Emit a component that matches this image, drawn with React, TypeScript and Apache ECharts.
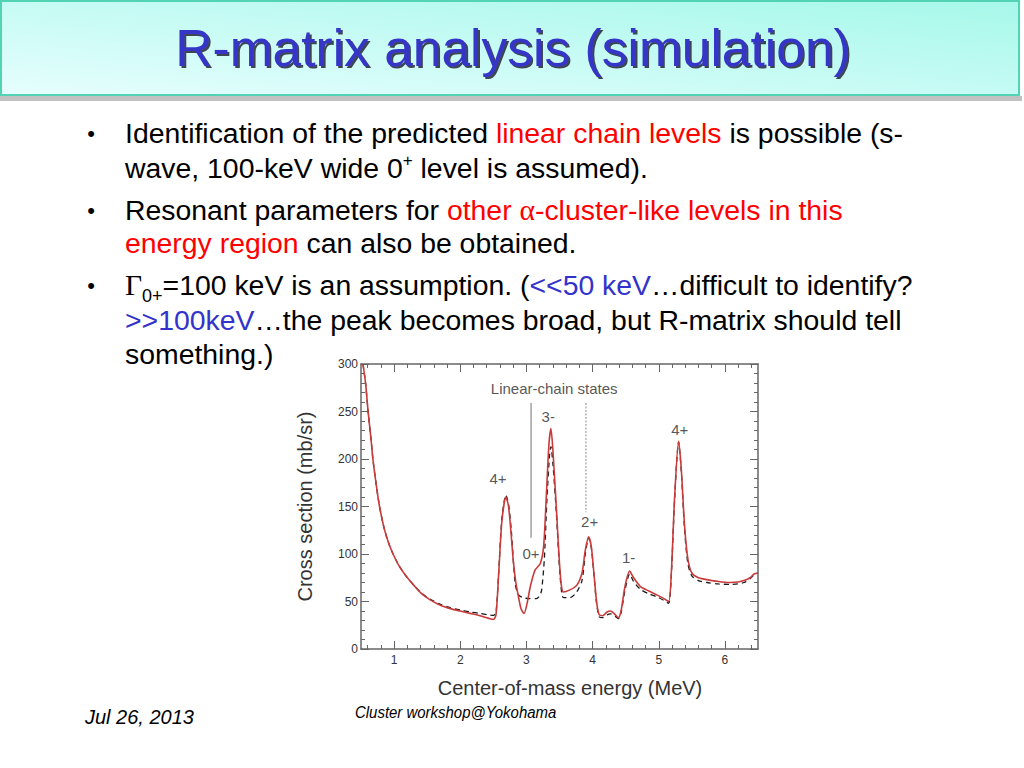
import React, { useEffect, useRef } from 'react';
import * as echarts from 'echarts';

// ---------- data ----------
const redCurve: [number, number][] = [
  [0.53, 300], [0.57, 279], [0.61, 248], [0.65, 222], [0.68, 200], [0.73, 173], [0.78, 150],
  [0.85, 127], [0.92, 111], [0.985, 100], [1.08, 87], [1.19, 76], [1.3, 67], [1.42, 58],
  [1.54, 52], [1.7, 46], [1.85, 42.5], [2.0, 40], [2.15, 37.5], [2.3, 35], [2.42, 32.5],
  [2.5, 31], [2.54, 36], [2.58, 78], [2.63, 135], [2.69, 160], [2.73, 150], [2.77, 120],
  [2.8, 94], [2.84, 70], [2.88, 55], [2.92, 42], [2.965, 37.5], [3.01, 48], [3.06, 66],
  [3.13, 83], [3.21, 90], [3.26, 108], [3.3, 160], [3.34, 215], [3.37, 232], [3.4, 210],
  [3.46, 139], [3.5, 90], [3.53, 66], [3.56, 60], [3.65, 62], [3.76, 67], [3.84, 80],
  [3.89, 104], [3.94, 118], [3.98, 108], [4.02, 80], [4.06, 50], [4.1, 36], [4.15, 35],
  [4.22, 39], [4.27, 40], [4.33, 37], [4.39, 33], [4.43, 40], [4.49, 66], [4.56, 82],
  [4.62, 75], [4.72, 66], [4.85, 61], [4.97, 57], [5.08, 53], [5.15, 50], [5.19, 80],
  [5.24, 160], [5.3, 219], [5.34, 190], [5.39, 130], [5.44, 95], [5.5, 80], [5.6, 75],
  [5.73, 73], [5.9, 71], [6.08, 70], [6.2, 70.5], [6.29, 72], [6.38, 75], [6.44, 79], [6.5, 80]
];

const dashedCurve: [number, number][] = [
  [0.53, 300], [0.57, 279], [0.61, 248], [0.65, 222], [0.68, 200], [0.73, 173], [0.78, 150],
  [0.85, 127], [0.92, 111], [0.985, 100], [1.08, 87], [1.19, 76], [1.3, 67], [1.42, 58.5],
  [1.54, 52.5], [1.7, 47], [1.85, 43.5], [2.0, 41], [2.15, 39], [2.3, 37.5], [2.42, 36],
  [2.5, 35.5], [2.54, 38], [2.58, 80], [2.63, 138], [2.69, 162], [2.73, 152], [2.77, 126],
  [2.83, 69], [2.88, 57], [2.95, 54], [3.05, 53], [3.15, 53], [3.2, 56], [3.23, 62],
  [3.27, 94], [3.31, 157], [3.35, 205], [3.37, 213], [3.4, 195], [3.45, 146], [3.51, 76],
  [3.56, 54], [3.66, 54], [3.76, 60], [3.84, 72], [3.89, 100], [3.94, 117], [3.98, 107],
  [4.02, 79], [4.06, 48], [4.1, 34], [4.15, 33], [4.22, 36], [4.27, 37], [4.33, 35],
  [4.39, 32], [4.43, 38], [4.49, 62], [4.56, 79], [4.62, 71], [4.72, 63], [4.85, 58],
  [4.97, 55], [5.08, 51], [5.15, 48], [5.19, 78], [5.24, 158], [5.3, 218], [5.34, 188],
  [5.39, 126], [5.44, 90], [5.5, 77], [5.6, 72], [5.73, 70], [5.9, 68.5], [6.08, 68],
  [6.2, 68.5], [6.29, 70], [6.38, 74], [6.44, 78], [6.5, 80]
];

const levelLabels = [
  { name: '4+', value: [2.57, 179] },
  { name: '0+', value: [3.07, 101] },
  { name: '3-', value: [3.33, 245] },
  { name: '2+', value: [3.955, 134] },
  { name: '1-', value: [4.545, 96] },
  { name: '4+', value: [5.318, 231] },
  { name: 'Linear-chain states', value: [3.42, 274] }
];

const chainLine1: [number, number][] = [[3.07, 259], [3.07, 117]];
const chainLine2: [number, number][] = [[3.9, 259], [3.9, 144]];

const xRange = [0.5, 6.5];
const yRange = [0, 300];
const xMajorTicks = [1, 2, 3, 4, 5, 6];
const xMinorTicks = [
  0.6, 0.8, 1.2, 1.4, 1.6, 1.8, 2.2, 2.4, 2.6, 2.8, 3.2, 3.4, 3.6, 3.8,
  4.2, 4.4, 4.6, 4.8, 5.2, 5.4, 5.6, 5.8, 6.2, 6.4
];

const titleText = 'R-matrix analysis (simulation)';
const xAxisName = 'Center-of-mass energy (MeV)';
const yAxisName = 'Cross section (mb/sr)';
const dateText = 'Jul 26, 2013';
const footerText = 'Cluster workshop@Yokohama';

// bullet lines: [richText, y]
const bulletLines: [string, number][] = [
  ['{k|Identification of the predicted }{r|linear chain levels}{k| is possible (s-}', 133],
  ['{k|wave, 100-keV wide 0}{sup|+}{k| level is assumed).}', 168],
  ['{k|Resonant parameters for }{r|other }{ra|α}{r|-cluster-like levels in this}', 210],
  ['{r|energy region}{k| can also be obtained.}', 243],
  ['{g|Γ}{sub|0+}{k|=100 keV is an assumption. (}{b|<<50 keV}{k|…difficult to identify?}', 285],
  ['{b|>>100keV}{k|…the peak becomes broad, but R-matrix should tell}', 320],
  ['{k|something.)}', 354]
];
const bulletYs = [133, 210, 285];

const SANS = '"Liberation Sans", Arial, Helvetica, sans-serif';
const SERIF = '"Liberation Serif", "Times New Roman", serif';

export default function App() {
  const ref = useRef<HTMLDivElement>(null);
  useEffect(() => {
    if (!ref.current) return;
    const chart = echarts.init(ref.current, undefined, { renderer: 'svg' });

    const FS = 28.4;
    const rich = {
      k: { fill: '#000000', color: '#000000', fontSize: FS, fontFamily: SANS, lineHeight: 32 },
      r: { fill: '#ff0000', color: '#ff0000', fontSize: FS, fontFamily: SANS, lineHeight: 32 },
      ra: { fill: '#ff0000', color: '#ff0000', fontSize: 29.5, fontFamily: SERIF, lineHeight: 32 },
      b: { fill: '#3333cc', color: '#3333cc', fontSize: FS, fontFamily: SANS, lineHeight: 32 },
      g: { fill: '#000000', color: '#000000', fontSize: 29.5, fontFamily: SERIF, lineHeight: 32 },
      sup: { fill: '#000000', color: '#000000', fontSize: 17, fontFamily: SANS, lineHeight: 17, verticalAlign: 'top' },
      sub: { fill: '#000000', color: '#000000', fontSize: 18, fontFamily: SANS, lineHeight: 18, verticalAlign: 'bottom', padding: [0, 0, -4, 0] }
    };

    const graphics: any[] = [
      {
        type: 'rect', silent: true, z: 1,
        shape: { x: 0, y: 96, width: 1022, height: 5 },
        style: { fill: 'rgba(120,120,120,0.45)' }
      },
      {
        type: 'rect', silent: true, z: 2,
        shape: { x: 1, y: 1, width: 1018, height: 94 },
        style: {
          fill: new echarts.graphic.LinearGradient(0, 1, 1, 0, [
            { offset: 0, color: '#e6fefe' },
            { offset: 1, color: '#a6f8ea' }
          ]),
          stroke: '#52d4b4', lineWidth: 2
        }
      },
      {
        type: 'text', silent: true, z: 3, x: 513, y: 48,
        style: {
          text: titleText, fill: '#3535c8', fontSize: 51.5, fontFamily: SANS,
          align: 'center', verticalAlign: 'middle', textAlign: 'center', textVerticalAlign: 'middle',
          textShadowColor: 'rgba(20,20,40,0.8)', textShadowOffsetX: 2, textShadowOffsetY: 2, textShadowBlur: 1,
          shadowColor: 'rgba(20,20,40,0.8)', shadowOffsetX: 2, shadowOffsetY: 2, shadowBlur: 1
        }
      },
      ...bulletYs.map((y) => ({
        type: 'text', silent: true, z: 3, x: 91, y,
        style: {
          text: '•', fill: '#000', fontSize: 22, fontFamily: SANS,
          align: 'center', verticalAlign: 'middle', textAlign: 'center', textVerticalAlign: 'middle'
        }
      })),
      ...bulletLines.map(([t, y]) => ({
        type: 'text', silent: true, z: 3, x: 125, y,
        style: {
          text: t, rich, fontSize: FS, fontFamily: SANS, fill: '#000',
          align: 'left', verticalAlign: 'middle', textAlign: 'left', textVerticalAlign: 'middle'
        }
      })),
      {
        type: 'text', silent: true, z: 3, x: 85, y: 717,
        style: {
          text: dateText, fill: '#000', fontSize: 20, fontStyle: 'italic', fontFamily: SANS,
          align: 'left', verticalAlign: 'middle', textAlign: 'left', textVerticalAlign: 'middle'
        }
      },
      {
        type: 'text', silent: true, z: 3, x: 355, y: 712, scaleX: 0.88,
        style: {
          text: footerText, fill: '#000', fontSize: 17, fontStyle: 'italic', fontFamily: SANS,
          align: 'left', verticalAlign: 'middle', textAlign: 'left', textVerticalAlign: 'middle'
        }
      }
    ];

    const axisGray = '#666666';
    const labelColor = '#333333';

    const baseX = {
      type: 'value', min: xRange[0], max: xRange[1], splitLine: { show: false }
    };
    const baseY = {
      type: 'value', min: yRange[0], max: yRange[1], interval: 50, splitLine: { show: false },
      minorTick: { show: true, splitNumber: 5, length: 4, lineStyle: { color: axisGray, width: 1 } }
    };

    const option: any = {
      animation: false,
      backgroundColor: '#ffffff',
      textStyle: { fontFamily: SANS },
      graphic: graphics,
      grid: { left: 361, right: 266, top: 364, bottom: 119, containLabel: false },
      xAxis: [
        {
          ...baseX, position: 'bottom',
          axisLine: { show: true, lineStyle: { color: axisGray, width: 1.5 } },
          axisTick: { show: true, inside: true, length: 8, customValues: xMajorTicks, lineStyle: { color: axisGray, width: 1 } },
          axisLabel: { show: true, color: labelColor, fontSize: 12, margin: 5, customValues: xMajorTicks },
          name: xAxisName, nameLocation: 'middle', nameGap: 29,
          nameTextStyle: { color: labelColor, fontSize: 20, fontFamily: SANS, padding: [0, 0, 0, 21] }
        },
        {
          ...baseX, position: 'bottom',
          axisLine: { show: false },
          axisTick: { show: true, inside: true, length: 4, customValues: xMinorTicks, lineStyle: { color: axisGray, width: 1 } },
          axisLabel: { show: false }
        },
        {
          ...baseX, position: 'top',
          axisLine: { show: true, lineStyle: { color: axisGray, width: 1.5 } },
          axisTick: { show: true, inside: true, length: 8, customValues: xMajorTicks, lineStyle: { color: axisGray, width: 1 } },
          axisLabel: { show: false }
        },
        {
          ...baseX, position: 'top',
          axisLine: { show: false },
          axisTick: { show: true, inside: true, length: 4, customValues: xMinorTicks, lineStyle: { color: axisGray, width: 1 } },
          axisLabel: { show: false }
        }
      ],
      yAxis: [
        {
          ...baseY, position: 'left',
          axisLine: { show: true, lineStyle: { color: axisGray, width: 1.5 } },
          axisTick: { show: true, inside: true, length: 8, lineStyle: { color: axisGray, width: 1 } },
          minorTick: { ...baseY.minorTick },
          axisLabel: { show: true, color: labelColor, fontSize: 12, margin: 3 },
          name: yAxisName, nameLocation: 'middle', nameGap: 46, nameRotate: 90,
          nameTextStyle: { color: labelColor, fontSize: 20, fontFamily: SANS }
        },
        {
          ...baseY, position: 'right',
          axisLine: { show: true, lineStyle: { color: axisGray, width: 1.5 } },
          axisTick: { show: true, inside: true, length: 8, lineStyle: { color: axisGray, width: 1 } },
          axisLabel: { show: false }
        }
      ],
      series: [
        {
          type: 'line', name: 'without 0+', data: dashedCurve, xAxisIndex: 0, yAxisIndex: 0,
          symbol: 'none', smooth: 0.25, z: 3,
          lineStyle: { color: '#1a1a1a', width: 1.3, type: [5, 4] }
        },
        {
          type: 'line', name: 'with 0+', data: redCurve, xAxisIndex: 0, yAxisIndex: 0,
          symbol: 'none', smooth: 0.25, z: 4,
          lineStyle: { color: '#c93b3b', width: 1.6 }
        },
        {
          type: 'line', name: 'chain1', data: chainLine1, xAxisIndex: 0, yAxisIndex: 0,
          symbol: 'none', z: 2, lineStyle: { color: '#8a8a8a', width: 1.2 }
        },
        {
          type: 'line', name: 'chain2', data: chainLine2, xAxisIndex: 0, yAxisIndex: 0,
          symbol: 'none', z: 2, lineStyle: { color: '#8a8a8a', width: 1, type: [2, 1.5] }
        },
        {
          type: 'scatter', name: 'labels', data: levelLabels, xAxisIndex: 0, yAxisIndex: 0,
          symbolSize: 0.1, itemStyle: { color: 'rgba(0,0,0,0)' }, z: 5,
          label: {
            show: true, position: 'inside', formatter: '{b}', color: '#2a2a2a',
            fontSize: 15, fontFamily: SANS
          }
        }
      ]
    };

    chart.setOption(option);
    return () => chart.dispose();
  }, []);

  return (
    <div
      ref={ref}
      style={{ position: 'fixed', left: 0, top: 0, width: 1024, height: 768, background: '#fff' }}
    />
  );
}
